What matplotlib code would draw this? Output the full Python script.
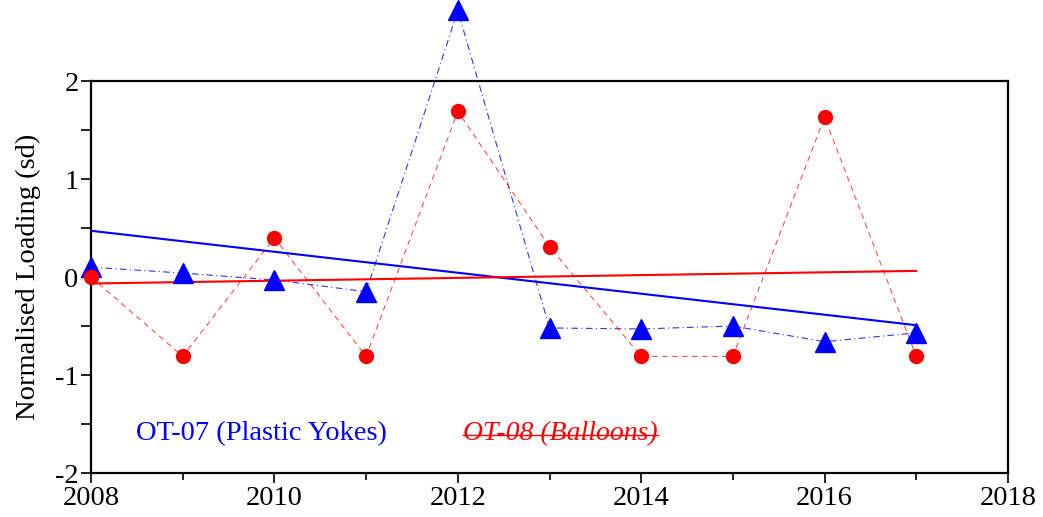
import numpy as np
import matplotlib
matplotlib.use("Agg")
import matplotlib.pyplot as plt
from matplotlib.ticker import MultipleLocator
from matplotlib.lines import Line2D

years = [2008, 2009, 2010, 2011, 2012, 2013, 2014, 2015, 2016, 2017]
ot07 = [0.10, 0.04, -0.03, -0.15, 2.72, -0.52, -0.53, -0.50, -0.66, -0.57]
ot08 = [0.00, -0.81, 0.40, -0.81, 1.69, 0.31, -0.81, -0.81, 1.63, -0.81]
label07 = "OT-07 (Plastic Yokes)"
label08 = "OT-08 (Balloons)"
ylabel = "Normalised Loading (sd)"

plt.rcParams['font.family'] = ['Liberation Serif', 'DejaVu Serif']
plt.rcParams['axes.unicode_minus'] = False

fig = plt.figure(figsize=(10.43, 5.17), dpi=100)
ax = fig.add_axes([0.0873, 0.0851, 0.9664 - 0.0873, 0.8433 - 0.0851])

x = np.array(years, dtype=float)
b = np.array(ot07)
r = np.array(ot08)

ax.plot(x, b, color='blue', lw=0.8, ls=(0, (6, 3, 1, 3)), alpha=0.8, clip_on=False, zorder=2)
ax.plot(x, r, color='red', lw=0.8, ls=(0, (5, 4)), alpha=0.7, clip_on=False, zorder=2)

pb = np.polyfit(x, b, 1)
pr = np.polyfit(x, r, 1)
xt = np.array([years[0], years[-1]], dtype=float)
ax.plot(xt, np.polyval(pb, xt), color='blue', lw=1.5, zorder=3)
ax.plot(xt, np.polyval(pr, xt), color='red', lw=1.5, zorder=3)

ax.plot(x, b, ls='none', marker='^', ms=14, color='blue', clip_on=False, zorder=4)
ax.plot(x, r, ls='none', marker='o', ms=10, color='red', clip_on=False, zorder=5)

ax.set_xlim(2008, 2018)
ax.set_ylim(-2, 2)
ax.xaxis.set_major_locator(MultipleLocator(2))
ax.xaxis.set_minor_locator(MultipleLocator(1))
ax.yaxis.set_major_locator(MultipleLocator(1))
ax.yaxis.set_minor_locator(MultipleLocator(0.5))
ax.tick_params(which='both', direction='out', top=False, right=False, labelsize=20.5, width=1.2, color='black')
ax.tick_params(which='major', length=7)
ax.tick_params(axis='x', which='minor', length=5)
ax.tick_params(axis='y', which='minor', length=7)
ax.tick_params(axis='x', pad=2)
ax.tick_params(axis='y', pad=2)
for s in ax.spines.values():
    s.set_linewidth(1.6)

ax.set_ylabel(ylabel, fontsize=20.5, labelpad=10)

ax.text(0.049, 0.085, label07, color='blue', fontsize=20.5, transform=ax.transAxes, ha='left', va='baseline')
t8 = ax.text(0.406, 0.085, label08, color='red', fontsize=20, style='italic', transform=ax.transAxes, ha='left', va='baseline')

fig.canvas.draw()
bb = t8.get_window_extent(renderer=fig.canvas.get_renderer())
inv = fig.transFigure.inverted()
(x0, y0), (x1, y1) = inv.transform([(bb.x0, bb.y0), (bb.x1, bb.y1)])
ym = y0 + (y1 - y0) * 0.42
fig.add_artist(Line2D([x0, x1], [ym, ym], color='red', lw=1.0, transform=fig.transFigure))

fig.savefig("out.png", dpi=100)
